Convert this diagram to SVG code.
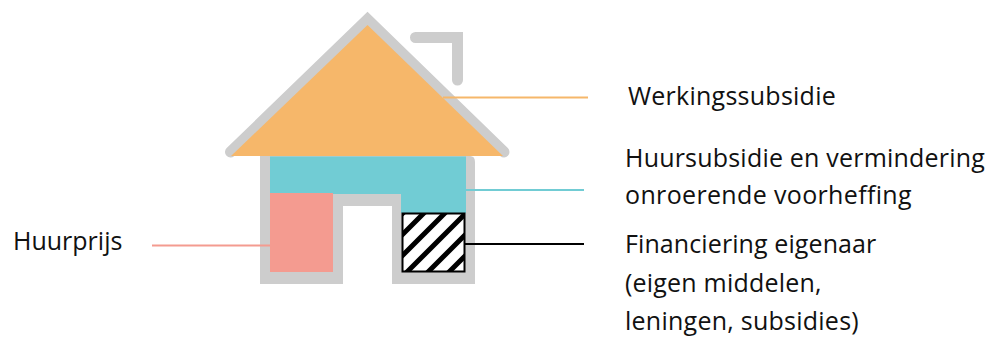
<svg xmlns="http://www.w3.org/2000/svg" width="998" height="338" viewBox="0 0 998 338">
<style>
text{font-family:"Open Sans","Noto Sans",sans-serif;font-size:25px;fill:#111}
.g{fill:none;stroke:#cdcdcd;stroke-width:11;stroke-linecap:round}
</style>
<defs>
<pattern id="h" patternUnits="userSpaceOnUse" width="21" height="21" patternTransform="translate(402 214)">
<rect width="21" height="21" fill="#fff"/>
<path d="M-5.250 5.250L5.250 -5.250M-5.250 26.250L26.250 -5.250M15.750 26.250L26.250 15.750" stroke="#000" stroke-width="5" fill="none"/>
</pattern>
</defs>
<g id="house">
<path d="M260 156H470Q475 156 475 162V284H392V206H343V284H260Z" fill="#cdcdcd"/>
<rect x="343" y="206" width="49" height="78" fill="#fff"/>
<path class="g" d="M230.500 152L367.500 19.500L504 152"/>
<path class="g" d="M415.500 37.500H457.500V80" stroke-linejoin="miter"/>
<path d="M367.500 25L503 156H231Z" fill="#f6b76a"/>
</g>
<g id="huursubsidie-zone"><path d="M270 156.500H466V213H401V194H333V193H270Z" fill="#71ccd4"/></g>
<g id="huurprijs-zone"><rect x="270" y="193" width="63" height="79" fill="#f49b90"/></g>
<g id="financiering-zone"><rect x="402.500" y="213.500" width="62" height="58" fill="url(#h)" stroke="#000" stroke-width="2"/></g>
<g id="connectors" fill="none" stroke-width="2">
<path d="M443 97.500H588" stroke="#f6b76a"/>
<path d="M466 190H584" stroke="#71ccd4"/>
<path d="M464 244H584" stroke="#000"/>
<path d="M152 245.500H270" stroke="#f49b90"/>
</g>
<g id="label-huurprijs"><text x="13" y="250">Huurprijs</text></g>
<g id="label-werkingssubsidie"><text x="628" y="105" letter-spacing="0.25">Werkingssubsidie</text></g>
<g id="label-huursubsidie"><text x="625" y="167" letter-spacing="0.2">Huursubsidie en vermindering</text><text x="625" y="204" letter-spacing="0.35">onroerende voorheffing</text></g>
<g id="label-financiering"><text x="625" y="253" letter-spacing="0.1">Financiering eigenaar</text><text x="625" y="292" letter-spacing="0.2">(eigen middelen,</text><text x="625" y="330" letter-spacing="0.25">leningen, subsidies)</text></g>
</svg>
